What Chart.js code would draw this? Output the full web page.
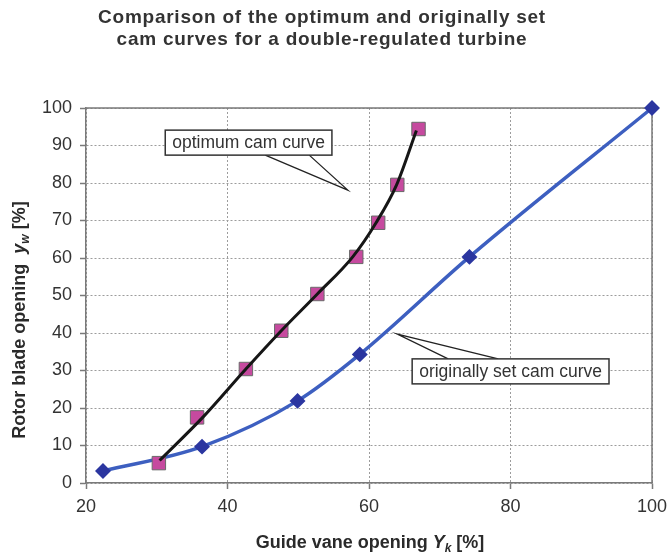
<!DOCTYPE html>
<html>
<head>
<meta charset="utf-8">
<title>Cam curves</title>
<script src="https://cdn.jsdelivr.net/npm/chart.js@4.4.1/dist/chart.umd.min.js"></script>
<style>
    html, body { margin: 0; padding: 0; background: #fff; }
    #wrap { width: 669px; height: 555px; position: relative; }
</style>
</head>
<body>
<div id="wrap"><canvas id="camChart" width="669" height="555"></canvas></div>
<script>
// ---------- data ----------
const xTickValues = [20, 40, 60, 80, 100];
const yTickValues = [0, 10, 20, 30, 40, 50, 60, 70, 80, 90, 100];

// optimum cam curve: measured points (squares)
const optimumX = [30.3, 35.7, 42.6, 47.6, 52.7, 58.2, 61.3, 64.0, 67.0];
const optimumY = [5.3, 17.5, 30.4, 40.6, 50.4, 60.3, 69.4, 79.5, 94.4];

// optimum cam curve: the drawn black line
const optimumLineX = [30.4, 36.6, 42.6, 47.6, 52.7, 57.7, 61.0, 63.9, 66.7];
const optimumLineY = [6.0, 17.7, 30.4, 40.6, 50.4, 60.3, 69.4, 79.5, 94.0];

// originally set cam curve (diamonds)
const originalX = [22.4, 36.4, 49.9, 58.7, 74.2, 100];
const originalY = [3.2, 9.7, 21.9, 34.3, 60.3, 100];

const titleLines = [
    "Comparison of the optimum and originally set",
    "cam curves for a double-regulated turbine"
];

// callouts: box top-left, pointer tip (data units), leg offsets in px from box left
const callouts = [
    { text: "optimum cam curve", boxX: 31.2, boxY: 94.1, tipX: 57.0, tipY: 78.1, legs: [100, 144] },
    { text: "originally set cam curve", boxX: 66.1, boxY: 33.1, tipX: 64.0, tipY: 39.7, legs: [36, 86] }
];

const FONT = "'Liberation Sans', Arial, Helvetica, sans-serif";

function toPoints(xs, ys) {
    return xs.map((x, i) => ({ x: x, y: ys[i] }));
}

// draws a run of text pieces with different fonts, centred on (cx, y)
function drawRich(ctx, parts, cx, y) {
    let total = 0;
    parts.forEach(p => {
        ctx.font = p.font;
        p.w = ctx.measureText(p.text).width;
        total += p.w;
    });
    let x = cx - total / 2;
    parts.forEach(p => {
        ctx.font = p.font;
        ctx.fillText(p.text, x, y + (p.dy || 0));
        x += p.w;
    });
}

// ---------- decorations: title, frame, axis titles, callouts ----------
const decorPlugin = {
    id: "decor",
    beforeDatasetsDraw(chart) {
        const ctx = chart.ctx;
        const a = chart.chartArea;
        // solid top and right edge of plot frame
        ctx.save();
        ctx.strokeStyle = "#7a7a7a";
        ctx.lineWidth = 1.5;
        ctx.beginPath();
        ctx.moveTo(a.left, a.top);
        ctx.lineTo(a.right, a.top);
        ctx.lineTo(a.right, a.bottom);
        ctx.stroke();
        ctx.restore();
    },
    afterDraw(chart) {
        const ctx = chart.ctx;
        const xs = chart.scales.x;
        const ys = chart.scales.y;
        ctx.save();

        // title
        ctx.fillStyle = "#333";
        ctx.textAlign = "center";
        ctx.textBaseline = "alphabetic";
        ctx.font = "bold 19px " + FONT;
        if ("letterSpacing" in ctx) ctx.letterSpacing = "0.75px";
        ctx.fillText(titleLines[0], 322, 23);
        ctx.fillText(titleLines[1], 322, 45);
        if ("letterSpacing" in ctx) ctx.letterSpacing = "0px";

        // x axis title
        ctx.textAlign = "left";
        ctx.fillStyle = "#2a2a2a";
        drawRich(ctx, [
            { text: "Guide vane opening ", font: "bold 18px " + FONT },
            { text: "Y", font: "italic bold 18px " + FONT },
            { text: "k", font: "italic bold 12px " + FONT, dy: 4 },
            { text: " [%]", font: "bold 18px " + FONT }
        ], 370, 548);

        // y axis title
        ctx.save();
        ctx.translate(25, 320);
        ctx.rotate(-Math.PI / 2);
        drawRich(ctx, [
            { text: "Rotor blade opening  ", font: "bold 18px " + FONT },
            { text: "y", font: "italic bold 18px " + FONT },
            { text: "w", font: "italic bold 12px " + FONT, dy: 4 },
            { text: " [%]", font: "bold 18px " + FONT }
        ], 0, 0);
        ctx.restore();

        // callouts
        ctx.font = "17.5px " + FONT;
        ctx.textBaseline = "middle";
        callouts.forEach(c => {
            const bx = xs.getPixelForValue(c.boxX);
            const by = ys.getPixelForValue(c.boxY);
            const bw = ctx.measureText(c.text).width + 14;
            const bh = 25;
            const tx = xs.getPixelForValue(c.tipX);
            const ty = ys.getPixelForValue(c.tipY);
            const legY = ty > by ? by + bh : by;

            ctx.strokeStyle = "#222";
            ctx.lineWidth = 1.3;
            ctx.beginPath();
            ctx.moveTo(bx + c.legs[0], legY);
            ctx.lineTo(tx, ty);
            ctx.lineTo(bx + c.legs[1], legY);
            ctx.stroke();

            ctx.fillStyle = "#fff";
            ctx.fillRect(bx, by, bw, bh);
            ctx.strokeStyle = "#333";
            ctx.lineWidth = 1.5;
            ctx.strokeRect(bx, by, bw, bh);

            ctx.fillStyle = "#333";
            ctx.fillText(c.text, bx + 7, by + bh / 2 + 1);
        });

        ctx.restore();
    }
};

const gridStyle = {
    color: "#9c9c9c",
    lineWidth: 1,
    tickColor: "#7a7a7a",
    tickLength: 6,
    tickWidth: 1.5,
    tickBorderDash: []
};
const borderStyle = { color: "#7a7a7a", width: 1.5, dash: [2, 2] };

const ctx = document.getElementById("camChart");
new Chart(ctx, {
    type: "scatter",
    data: {
        datasets: [
            {
                label: "optimum cam curve (line)",
                data: toPoints(optimumLineX, optimumLineY),
                showLine: true,
                cubicInterpolationMode: "monotone",
                borderColor: "#161616",
                borderWidth: 3,
                pointRadius: 0,
                order: 0
            },
            {
                label: "optimum cam curve",
                data: toPoints(optimumX, optimumY),
                showLine: false,
                pointStyle: "rect",
                pointRadius: 9.5,
                pointBackgroundColor: "#c64a9f",
                pointBorderColor: "#6a6a6a",
                pointBorderWidth: 1,
                order: 1
            },
            {
                label: "originally set cam curve",
                data: toPoints(originalX, originalY),
                showLine: true,
                cubicInterpolationMode: "monotone",
                borderColor: "#3d5fc0",
                borderWidth: 3.5,
                pointStyle: "rectRot",
                pointRadius: 5.5,
                pointBackgroundColor: "#2b36a0",
                pointBorderColor: "#2b36a0",
                clip: false,
                order: 2
            }
        ]
    },
    options: {
        responsive: false,
        devicePixelRatio: 1,
        animation: false,
        layout: { padding: { top: 108, right: 17, bottom: 0, left: 0 } },
        plugins: {
            legend: { display: false },
            title: { display: false },
            tooltip: { enabled: false }
        },
        scales: {
            x: {
                type: "linear",
                min: xTickValues[0],
                max: xTickValues[xTickValues.length - 1],
                afterBuildTicks: s => { s.ticks = xTickValues.map(v => ({ value: v })); },
                afterFit: s => {
                    s.height = 72;
                    s.paddingLeft = 0;
                    s.paddingRight = 0;
                },
                ticks: {
                    color: "#333",
                    font: { family: FONT, size: 18 },
                    padding: 7
                },
                grid: gridStyle,
                border: borderStyle
            },
            y: {
                type: "linear",
                min: yTickValues[0],
                max: yTickValues[yTickValues.length - 1],
                afterBuildTicks: s => { s.ticks = yTickValues.map(v => ({ value: v })); },
                afterFit: s => {
                    s.width = 86;
                    s.paddingTop = 0;
                    s.paddingBottom = 0;
                },
                ticks: {
                    color: "#333",
                    font: { family: FONT, size: 18 },
                    padding: 8
                },
                grid: gridStyle,
                border: borderStyle
            }
        }
    },
    plugins: [decorPlugin]
});
</script>
</body>
</html>
